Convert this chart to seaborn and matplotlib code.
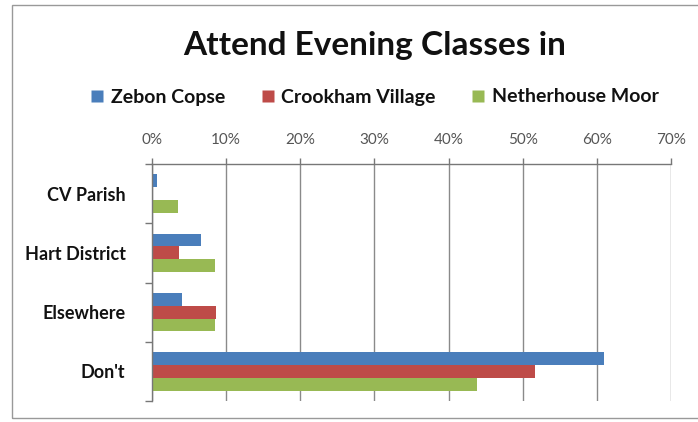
import matplotlib
matplotlib.use("Agg")
import matplotlib.pyplot as plt
from matplotlib.patches import Rectangle
from matplotlib.lines import Line2D
import seaborn as sns
import pandas as pd

categories = ["CV Parish", "Hart District", "Elsewhere", "Don't"]
series = ["Zebon Copse", "Crookham Village", "Netherhouse Moor"]
zebon = [0.7, 6.6, 4.1, 61.0]
crookham = [0.0, 3.6, 8.6, 51.6]
netherhouse = [3.5, 8.5, 8.5, 43.8]
xticks = [0, 10, 20, 30, 40, 50, 60, 70]
xtick_labels = ["0%", "10%", "20%", "30%", "40%", "50%", "60%", "70%"]
colors = ["#4a7ebb", "#be4b48", "#98b954"]

rows = []
for s, vals in zip(series, [zebon, crookham, netherhouse]):
    for c, v in zip(categories, vals):
        rows.append({"Category": c, "Series": s, "Value": v})
df = pd.DataFrame(rows)

sns.set_style("white")
plt.rcParams["font.family"] = ["Lato", "DejaVu Sans"]

fig = plt.figure(figsize=(6.98, 4.22), dpi=100)
ax = fig.add_axes([152/698, 1-401/422, (671-152)/698, (401-164)/422])

sns.barplot(data=df, y="Category", x="Value", hue="Series", order=categories,
            hue_order=series, palette=colors, orient="h", width=0.65,
            saturation=1, ax=ax, legend=False, edgecolor="none")

ax.set_xlim(0, 70)
ax.set_ylim(3.5, -0.5)
ax.set_xticks(xticks)
ax.set_xticklabels(xtick_labels, fontsize=11, color="#555555")
ax.xaxis.tick_top()
ax.tick_params(axis="x", top=True, bottom=False, length=4, width=1,
               color="#777777", pad=8)
ax.set_xlabel("")
ax.set_ylabel("")
ax.set_yticks(range(len(categories)))
ax.set_yticklabels(categories, fontsize=13, fontweight="bold", color="#111111")
ax.tick_params(axis="y", which="major", left=False, length=0, pad=19)
ax.set_yticks([-0.5, 0.5, 1.5, 2.5, 3.5], minor=True)
ax.tick_params(axis="y", which="minor", left=True, length=5, color="#777777", width=1)
ax.grid(axis="x", color="#8a8a8a", linewidth=1)
ax.set_axisbelow(True)
for side in ["right", "bottom"]:
    ax.spines[side].set_visible(False)
for side in ["left", "top"]:
    ax.spines[side].set_color("#777777")
    ax.spines[side].set_linewidth(1)

fig.text(375/698, 1-46/422, "Attend Evening Classes in", ha="center", va="center",
         fontsize=24, fontweight="bold", color="#111111")

handles = [Line2D([0], [0], marker="s", linestyle="none", markersize=8,
                  markerfacecolor=c, markeredgecolor="none") for c in colors]
leg = fig.legend(handles, series, loc="center", bbox_to_anchor=(374/698, 1-97/422),
                 ncol=3, frameon=False, fontsize=14, handlelength=0.8,
                 handletextpad=0.3, columnspacing=1.8)
for t in leg.get_texts():
    t.set_fontweight("bold")
    t.set_color("#111111")

fig.patches.append(Rectangle((12/698, 1-418/422), (705-12)/698, (418-5)/422,
                             transform=fig.transFigure, fill=False,
                             edgecolor="#999999", linewidth=1))

fig.savefig("out.png", dpi=100)
